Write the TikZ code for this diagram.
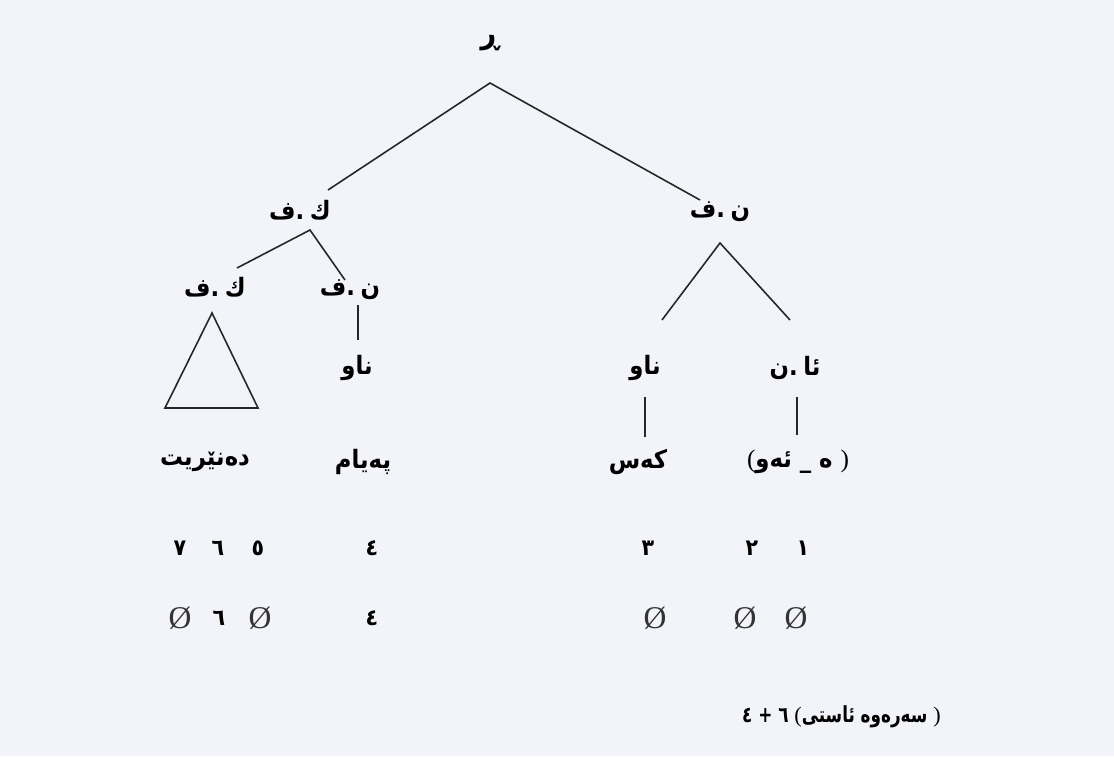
\documentclass[tikz,border=0pt]{standalone}
\usepackage{fontspec}
\setmainfont{Liberation Serif}
\newfontfamily\kurdfont[Script=Arabic, FakeStretch=0.9]{DejaVu Sans}
\newfontfamily\notefont[Script=Arabic, FakeStretch=0.76]{DejaVu Sans}
\TeXXeTstate=1
\usetikzlibrary{positioning,calc}
\definecolor{paper}{RGB}{242,244,250}
\newcommand{\kr}[1]{{\kurdfont\bfseries\beginR #1\endR}}
\newcommand{\gap}{\hskip0.22em\relax}

\begin{document}
\begin{tikzpicture}[
  lbl/.style={font=\fontsize{7.2}{8}\selectfont, inner sep=1pt},
  num/.style={font=\fontsize{6.5}{7}\selectfont\kurdfont\bfseries, inner sep=1pt},
  nul/.style={font=\fontsize{9}{10}\selectfont, text=black!80, inner sep=1pt},
  br/.style={line width=0.45pt, draw=black!85}]
\fill[paper] (0,0) rectangle (11.14,7.56);
% ---- top of the tree ----
\node[lbl, font=\fontsize{8.6}{9}\selectfont] (s) at (4.90,7.13) {\kr{ڕ}};
\coordinate (sfoot) at ($(s)+(0,-0.40)$);
\node[lbl] (vp) at (3.00,5.46) {\kr{ك\gap.ف}};
\node[lbl] (np) at (7.20,5.44) {\kr{ن\gap.ف}};
\draw[br] ($(vp)+(0.28,0.20)$) -- (sfoot) -- ($(np)+(-0.20,0.12)$);
% ---- left branch ----
\node[lbl] (vpin) at (2.15,4.69) {\kr{ك\gap.ف}};
\node[lbl] (npin) at (3.50,4.66) {\kr{ن\gap.ف}};
\coordinate (vpfoot) at ($(vp)+(0.10,-0.20)$);
\draw[br] ($(vpin)+(0.22,0.19)$) -- (vpfoot) -- ($(npin)+(-0.05,0.10)$);
\draw[br] ($(vpin)+(-0.03,-0.26)$) -- ++(-0.47,-0.95) -- ++(0.93,0) -- cycle;
\node[lbl] (n1) at (3.57,3.88) {\kr{ناو}};
\draw[br] ($(n1)+(0.01,0.63)$) -- ($(n1)+(0.01,0.28)$);
% ---- right branch ----
\node[lbl] (n2) at (6.45,3.88) {\kr{ناو}};
\node[lbl] (adj) at (7.95,3.88) {\kr{ئا\gap.ن}};
\coordinate (npfoot) at ($(np)+(0,-0.31)$);
\draw[br] ($(n2)+(0.17,0.48)$) -- (npfoot) -- ($(adj)+(-0.05,0.48)$);
% ---- words ----
\node[lbl] (w1) at (2.05,2.94) {\kr{دەنێریت}};
\node[lbl] (w2) at (3.63,2.94) {\kr{پەیام}};
\node[lbl] (w3) at (6.38,2.94) {\kr{کەس}};
\node[lbl] (w4) at (7.98,2.94) {\kr{{\rmfamily\mdseries )}\ ە \_ ئەو{\rmfamily\mdseries (}}};
\draw[br] ($(n2)+(0,-0.29)$) -- ($(w3.north -| n2)+(0,0.08)$);
\draw[br] ($(adj)+(0.02,-0.29)$) -- ($(w4.north -| adj)+(0.02,0.11)$);
% ---- numbering ----
\node[num] (k7) at (1.80,2.08) {٧};
\node[num] (k6) at (2.18,2.08) {٦};
\node[num] (k5) at (2.58,2.08) {٥};
\node[num] (k4) at (3.72,2.08) {٤};
\node[num] (k3) at (6.48,2.08) {٣};
\node[num] (k2) at (7.52,2.08) {٢};
\node[num] (k1) at (8.03,2.08) {١};
% ---- what is spelled out ----
\node[nul] (z7) at (1.80,1.38) {Ø};
\node[num] (z6) at (2.19,1.38) {٦};
\node[nul] (z5) at (2.60,1.38) {Ø};
\node[num] (z4) at (3.72,1.38) {٤};
\node[nul] (z3) at (6.55,1.38) {Ø};
\node[nul] (z2) at (7.45,1.38) {Ø};
\node[nul] (z1) at (7.96,1.38) {Ø};
% ---- note ----
\node[font=\fontsize{6.3}{7}\selectfont, inner sep=1pt, anchor=west] (note) at (7.38,0.39)
  {{\notefont\bfseries\beginR{\rmfamily\mdseries )}\ سەرەوە ئاستی{\rmfamily\mdseries (} ٦ + ٤\endR}};
\end{tikzpicture}
\end{document}
